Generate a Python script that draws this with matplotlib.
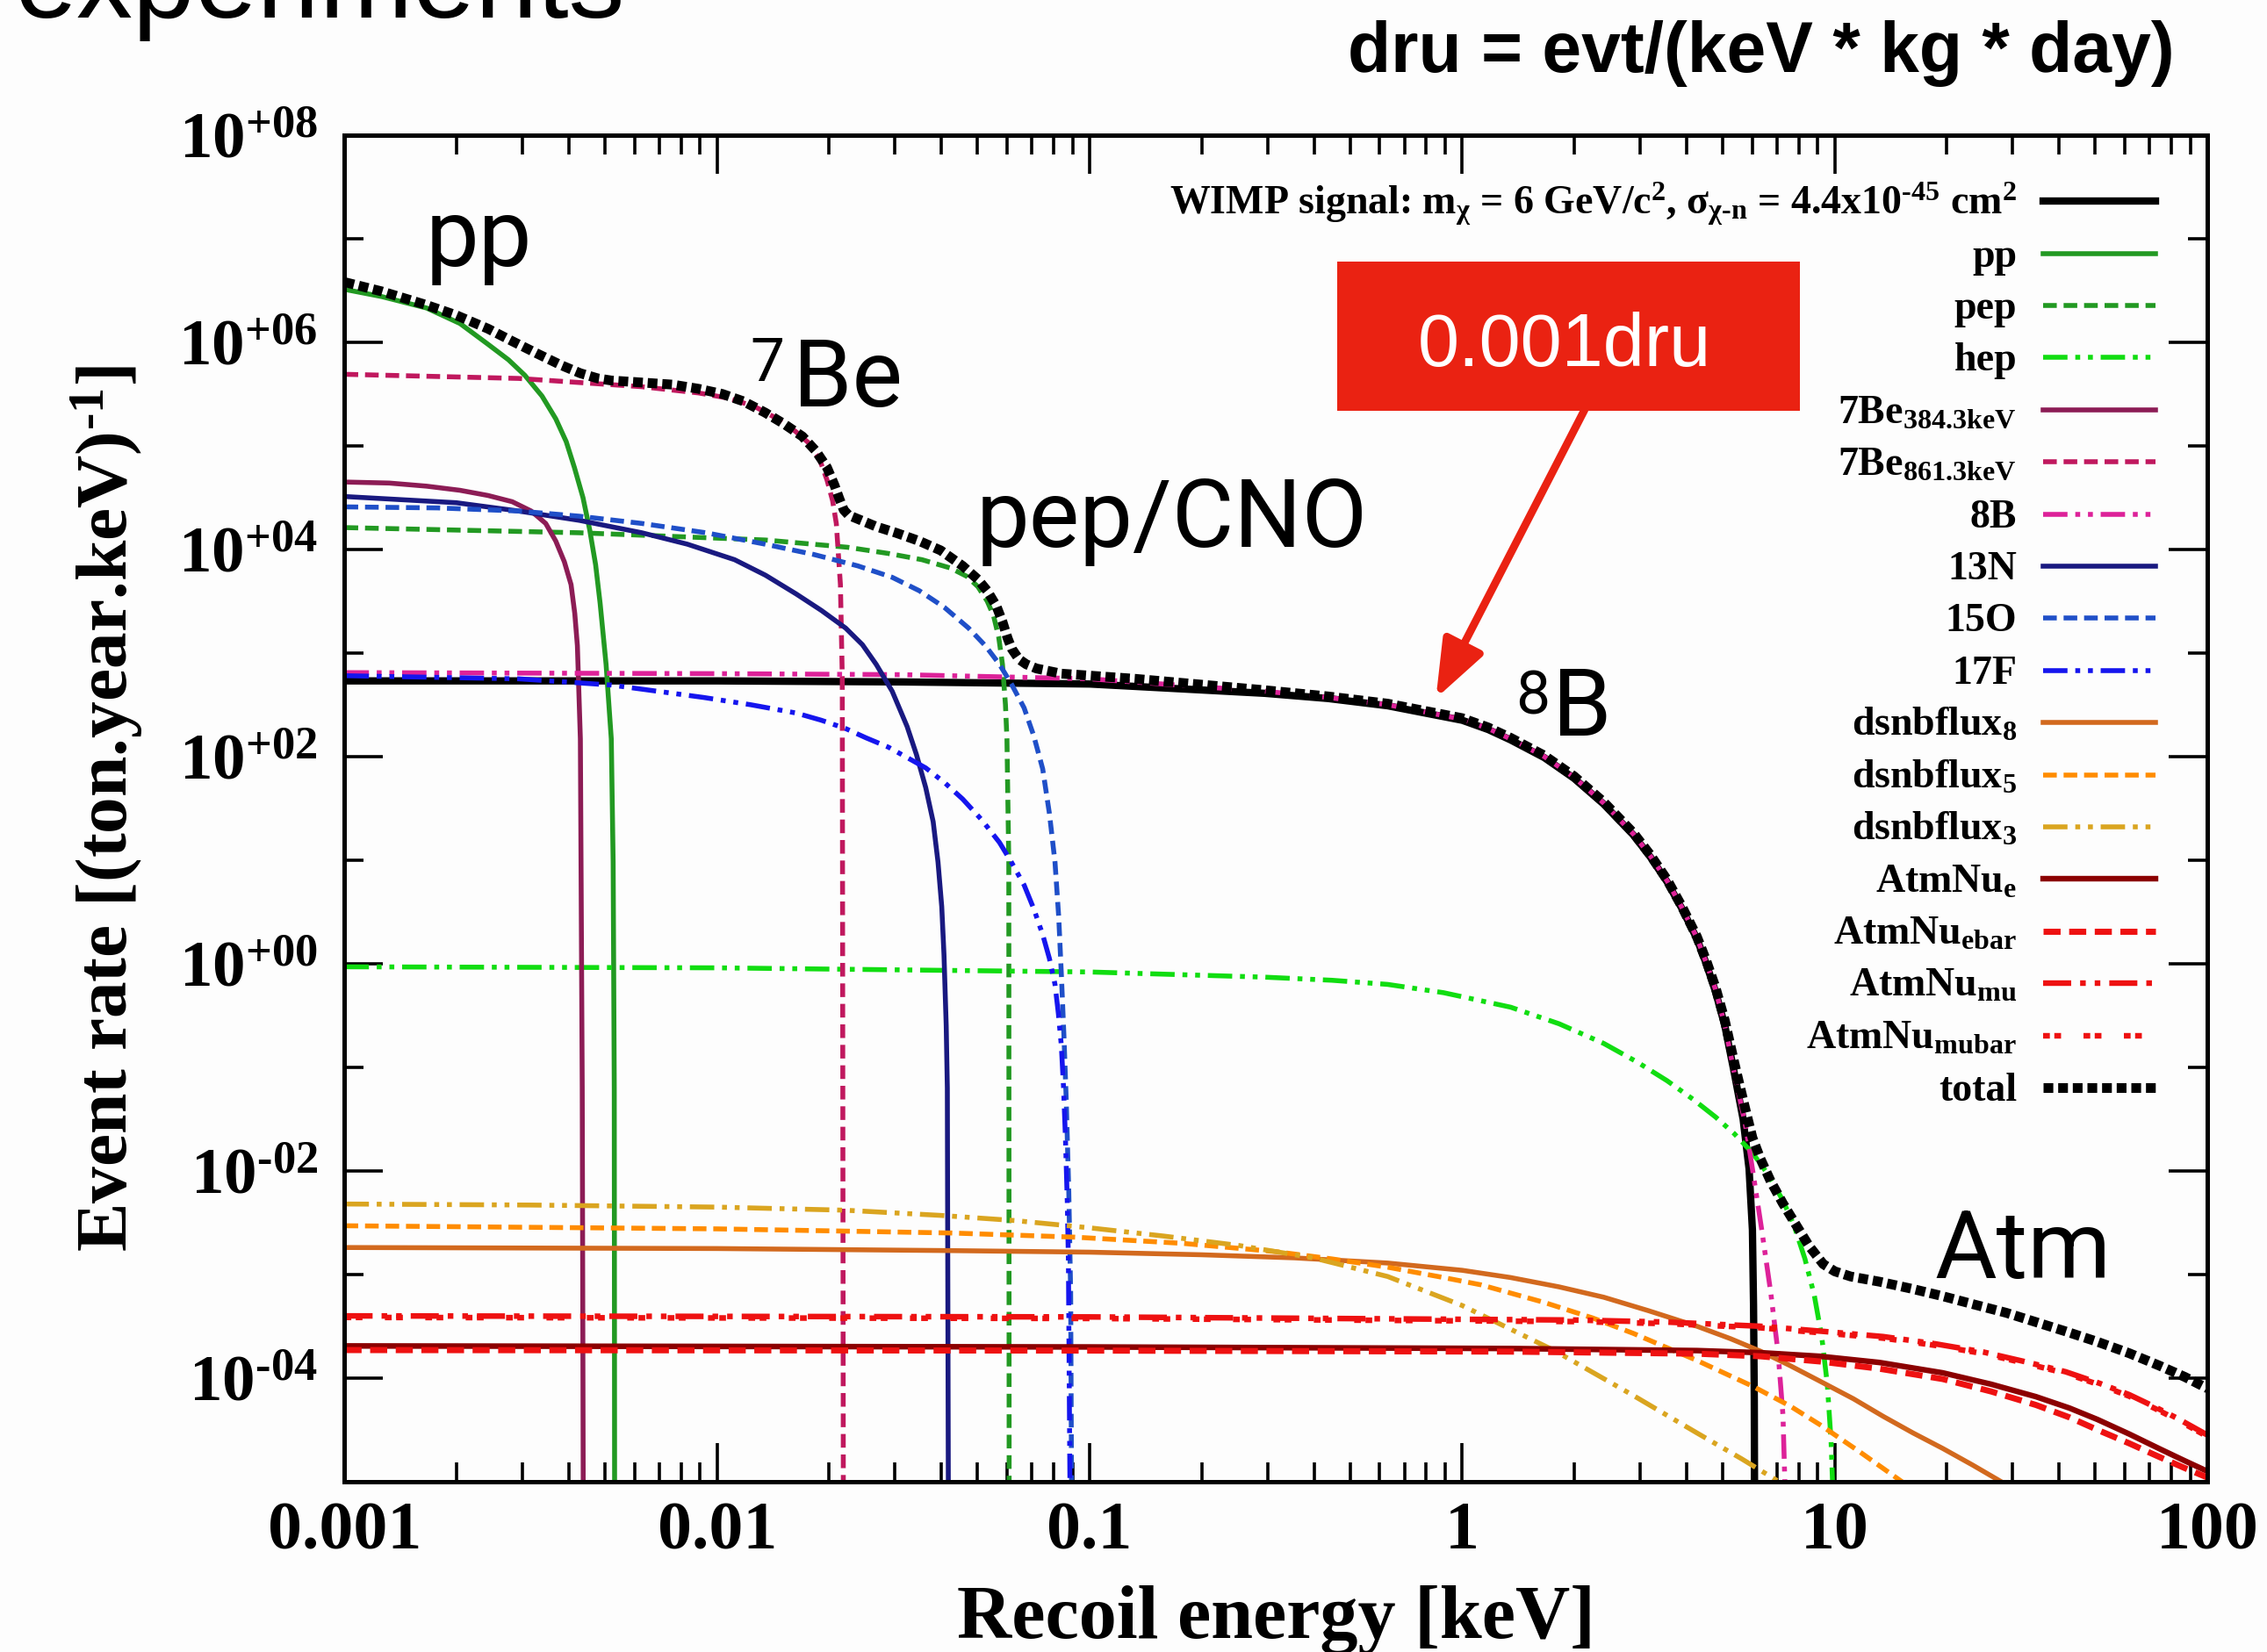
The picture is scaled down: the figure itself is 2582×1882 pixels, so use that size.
import matplotlib
matplotlib.use('Agg')
import matplotlib.pyplot as plt
from matplotlib.patches import Rectangle
from matplotlib.lines import Line2D
from matplotlib.ticker import FixedLocator, LogLocator, FuncFormatter, NullFormatter
import numpy as np

# log10(recoil energy / keV) and log10(rate / (ton.year.keV)^-1) for every curve
wimp_loge = [-3.0, -2.0, -1.5, -1.0, -0.53, -0.36, -0.2, 0.0, 0.07, 0.13, 0.22, 0.30, 0.38, 0.46, 0.505,
             0.55, 0.59, 0.63, 0.655, 0.68, 0.705, 0.729, 0.754, 0.770, 0.779, 0.782, 0.784, 0.785]
wimp_logr = [2.73, 2.73, 2.72, 2.70, 2.61, 2.56, 2.49, 2.35, 2.26, 2.16, 1.99, 1.79, 1.54, 1.24, 1.03,
             0.79, 0.53, 0.24, 0.0, -0.27, -0.6, -1.03, -1.50, -1.98, -2.57, -3.3, -4.2, -5.5]

pp_loge = [-3.0, -2.9, -2.78, -2.69, -2.615, -2.56, -2.516, -2.47, -2.433, -2.405, -2.383, -2.36, -2.342,
           -2.326, -2.314, -2.298, -2.284, -2.279, -2.276, -2.275]
pp_logr = [6.51, 6.44, 6.33, 6.18, 5.98, 5.83, 5.68, 5.48, 5.26, 5.04, 4.79, 4.50, 4.19, 3.85, 3.48, 2.89,
           2.17, 0.98, -1.2, -5.5]

pep_loge = [-3.0, -2.37, -1.87, -1.65, -1.54, -1.45, -1.374, -1.33, -1.30, -1.275, -1.258, -1.244, -1.234,
            -1.226, -1.222, -1.217, -1.216]
pep_logr = [4.21, 4.16, 4.09, 4.02, 3.96, 3.90, 3.82, 3.74, 3.64, 3.50, 3.36, 3.15, 2.89, 2.5, 2.17, 0.98,
            -5.5]

hep_loge = [-3.0, -2.0, -1.0, -0.53, -0.35, -0.2, -0.05, 0.13, 0.26, 0.38, 0.47, 0.55, 0.62, 0.68, 0.73,
            0.78, 0.82, 0.86, 0.89, 0.92, 0.945, 0.965, 0.98, 0.99, 0.996]
hep_logr = [-0.03, -0.04, -0.08, -0.13, -0.16, -0.2, -0.28, -0.42, -0.58, -0.77, -0.95, -1.13, -1.31,
            -1.48, -1.64, -1.83, -2.03, -2.28, -2.52, -2.85, -3.2, -3.6, -4.06, -4.6, -5.2]

be384_loge = [-3.0, -2.88, -2.78, -2.69, -2.615, -2.55, -2.499, -2.46, -2.433, -2.41, -2.392, -2.382,
              -2.375, -2.367, -2.362, -2.359]
be384_logr = [4.65, 4.64, 4.61, 4.57, 4.52, 4.46, 4.37, 4.25, 4.08, 3.88, 3.66, 3.38, 3.07, 2.17, -1.2,
              -5.5]

be861_loge = [-3.0, -2.533, -2.202, -2.05, -1.970, -1.90, -1.838, -1.79, -1.755, -1.725, -1.705, -1.69,
              -1.680, -1.669, -1.664, -1.661]
be861_logr = [5.69, 5.65, 5.57, 5.51, 5.46, 5.38, 5.26, 5.14, 5.03, 4.87, 4.67, 4.47, 4.25, 3.66, 2.77,
              -5.5]

b8_loge = [-3.0, -2.0, -1.5, -1.0, -0.53, -0.36, -0.2, 0.0, 0.07, 0.13, 0.22, 0.30, 0.38, 0.46, 0.505,
           0.55, 0.59, 0.63, 0.655, 0.68, 0.705, 0.73, 0.76, 0.779, 0.804, 0.828, 0.848, 0.861, 0.866, 0.868]
b8_logr = [2.81, 2.80, 2.79, 2.75, 2.63, 2.57, 2.50, 2.36, 2.27, 2.17, 2.00, 1.80, 1.55, 1.25, 1.04,
           0.80, 0.54, 0.25, 0.01, -0.25, -0.6, -1.05, -1.55, -1.98, -2.57, -3.17, -3.76, -4.36, -5.0, -5.5]

n13_loge = [-3.0, -2.7, -2.533, -2.37, -2.202, -2.08, -1.953, -1.87, -1.788, -1.72, -1.655, -1.61, -1.573,
            -1.53, -1.49, -1.465, -1.44, -1.42, -1.407, -1.397, -1.391, -1.385, -1.382, -1.379]
n13_logr = [4.51, 4.45, 4.37, 4.28, 4.16, 4.05, 3.90, 3.75, 3.57, 3.41, 3.24, 3.08, 2.89, 2.63, 2.29, 2.02,
            1.70, 1.37, 0.98, 0.55, 0.09, -0.6, -1.2, -5.5]

o15_loge = [-3.0, -2.75, -2.533, -2.37, -2.202, -2.03, -1.871, -1.74, -1.622, -1.53, -1.457, -1.39, -1.325,
            -1.28, -1.242, -1.21, -1.176, -1.15, -1.126, -1.108, -1.093, -1.083, -1.076, -1.069, -1.063,
            -1.056, -1.051, -1.048]
o15_logr = [4.41, 4.40, 4.37, 4.32, 4.25, 4.16, 4.05, 3.95, 3.84, 3.73, 3.60, 3.44, 3.24, 3.07, 2.89, 2.70,
            2.47, 2.20, 1.88, 1.45, 0.98, 0.45, -0.10, -0.7, -1.30, -2.2, -3.17, -5.5]

f17_loge = [-3.0, -2.533, -2.284, -2.16, -2.036, -1.91, -1.788, -1.72, -1.655, -1.60, -1.54, -1.49, -1.44,
            -1.39, -1.341, -1.29, -1.242, -1.21, -1.176, -1.15, -1.126, -1.108, -1.093, -1.084, -1.076,
            -1.070, -1.065, -1.060, -1.057, -1.052]
f17_logr = [2.78, 2.75, 2.69, 2.63, 2.57, 2.50, 2.42, 2.35, 2.27, 2.18, 2.09, 1.99, 1.89, 1.75, 1.59, 1.39,
            1.17, 0.98, 0.76, 0.53, 0.28, 0.05, -0.20, -0.48, -0.79, -1.2, -1.68, -2.3, -2.87, -5.5]

dsnb8_loge = [-3.0, -2.0, -1.37, -1.0, -0.7, -0.45, -0.2, 0.0, 0.13, 0.26, 0.38, 0.5, 0.63, 0.72, 0.80,
              0.88, 0.96, 1.05, 1.13, 1.21, 1.29, 1.37, 1.456, 1.5]
dsnb8_logr = [-2.74, -2.75, -2.77, -2.785, -2.81, -2.84, -2.89, -2.96, -3.03, -3.12, -3.22, -3.35, -3.50,
              -3.62, -3.74, -3.88, -4.03, -4.2, -4.37, -4.53, -4.68, -4.84, -5.02, -5.12]

dsnb5_loge = [-3.0, -2.0, -1.37, -1.04, -0.75, -0.5, -0.35, -0.2, -0.05, 0.05, 0.22, 0.35, 0.46, 0.63,
              0.78, 0.88, 0.96, 1.07, 1.18, 1.24]
dsnb5_logr = [-2.53, -2.56, -2.60, -2.64, -2.70, -2.78, -2.85, -2.93, -3.03, -3.10, -3.27, -3.42, -3.57,
              -3.83, -4.08, -4.27, -4.45, -4.72, -5.0, -5.15]

dsnb3_loge = [-3.0, -2.5, -2.0, -1.655, -1.4, -1.2, -1.0, -0.8, -0.6, -0.4, -0.2, 0.0, 0.25, 0.46, 0.63,
              0.75, 0.85, 0.9]
dsnb3_logr = [-2.32, -2.33, -2.35, -2.38, -2.43, -2.48, -2.55, -2.63, -2.72, -2.84, -3.02, -3.30, -3.74,
              -4.17, -4.53, -4.78, -5.0, -5.12]

atm_e_loge = [-3.0, -1.0, 0.13, 0.63, 0.8, 0.96, 1.12, 1.29, 1.42, 1.54, 1.63, 1.705, 1.79, 1.87, 1.94, 2.0]
atm_e_logr = [-3.69, -3.70, -3.715, -3.735, -3.755, -3.79, -3.85, -3.95, -4.06, -4.18, -4.29, -4.40,
              -4.54, -4.68, -4.80, -4.90]

atm_ebar_loge = [-3.0, -1.0, 0.13, 0.63, 0.8, 0.96, 1.12, 1.29, 1.42, 1.54, 1.63, 1.705, 1.79, 1.87, 1.94,
                 2.0]
atm_ebar_logr = [-3.73, -3.735, -3.745, -3.765, -3.79, -3.84, -3.91, -4.01, -4.13, -4.26, -4.38, -4.50,
                 -4.63, -4.76, -4.87, -4.96]

atm_mu_loge = [-3.0, -1.0, 0.3, 0.55, 0.8, 0.97, 1.13, 1.27, 1.4, 1.52, 1.62, 1.71, 1.79, 1.86, 1.92,
               1.97, 2.0]
atm_mu_logr = [-3.40, -3.41, -3.44, -3.46, -3.50, -3.55, -3.60, -3.67, -3.75, -3.85, -3.94, -4.05, -4.16,
               -4.28, -4.39, -4.49, -4.55]

atm_mubar_loge = [-3.0, -1.0, 0.3, 0.55, 0.8, 0.97, 1.13, 1.27, 1.4, 1.52, 1.62, 1.71, 1.79, 1.86, 1.92,
                  1.97, 2.0]
atm_mubar_logr = [-3.415, -3.425, -3.455, -3.475, -3.515, -3.565, -3.615, -3.685, -3.765, -3.865, -3.955,
                  -4.065, -4.175, -4.295, -4.405, -4.505, -4.565]

total_loge = [-3.0, -2.9, -2.781, -2.7, -2.615, -2.55, -2.483, -2.42, -2.367, -2.32, -2.284, -2.2, -2.119,
              -2.05, -1.986, -1.93, -1.871, -1.82, -1.771, -1.735, -1.705, -1.685, -1.672, -1.66, -1.647,
              -1.62, -1.573, -1.52, -1.457, -1.4, -1.341, -1.30, -1.275, -1.25, -1.234, -1.22, -1.209,
              -1.19, -1.17, -1.143, -1.076, -0.878, -0.53, -0.36, -0.2, 0.0, 0.07, 0.13, 0.22, 0.30, 0.38,
              0.46, 0.505, 0.55, 0.59, 0.63, 0.655, 0.68, 0.705, 0.73, 0.755, 0.779, 0.80, 0.828, 0.86,
              0.894, 0.93, 0.969, 1.0, 1.043, 1.12, 1.209, 1.29, 1.374, 1.46, 1.54, 1.62, 1.705, 1.79,
              1.871, 1.94, 2.0]
total_logr = [6.58, 6.49, 6.36, 6.26, 6.13, 6.01, 5.89, 5.78, 5.70, 5.65, 5.63, 5.61, 5.59, 5.55, 5.50,
              5.43, 5.32, 5.21, 5.09, 4.95, 4.79, 4.62, 4.49, 4.38, 4.33, 4.29, 4.22, 4.16, 4.08, 3.99,
              3.84, 3.71, 3.60, 3.45, 3.30, 3.14, 3.04, 2.94, 2.89, 2.85, 2.80, 2.75, 2.64, 2.58, 2.51,
              2.37, 2.28, 2.18, 2.01, 1.81, 1.56, 1.26, 1.05, 0.81, 0.55, 0.26, 0.03, -0.23, -0.55, -0.95,
              -1.33, -1.68, -1.88, -2.10, -2.31, -2.51, -2.72, -2.90, -2.97, -3.02, -3.07, -3.14, -3.21,
              -3.29, -3.37, -3.46, -3.55, -3.65, -3.76, -3.88, -3.99, -4.10]

# 0.001 dru expressed per ton.year.keV, and where the arrow lands on the 8B curve
DRU_E = 0.85
DRU_RATE = 1e-3 * 1000 * 365

x_ticks = [1e-3, 1e-2, 1e-1, 1, 10, 100]
y_major = [1e-4, 1e-2, 1, 1e2, 1e4, 1e6, 1e8]
y_minor = [1e-5, 1e-3, 1e-1, 1e1, 1e3, 1e5, 1e7]

HY = '\N{HYPHEN}'
DASH = (0, (2.8, 1.4))
DDOT = (0, (5, 1.6, 1, 1.6, 1, 1.6))
SPARSE = (0, (1.2, 0.8, 1.2, 4))

series = [
    ('WIMP signal: m$_{χ}$ = 6 GeV/c$^{2}$, σ$_{χ' + HY + 'n}$ = 4.4x10$^{' + HY + '45}$ cm$^{2}$',
     wimp_loge, wimp_logr, dict(color='black', lw=3.0, ls='-')),
    ('pp', pp_loge, pp_logr, dict(color='#229922', lw=2.0, ls='-')),
    ('pep', pep_loge, pep_logr, dict(color='#229922', lw=2.0, ls=DASH)),
    ('hep', hep_loge, hep_logr, dict(color='#11dd11', lw=2.0, ls=DDOT)),
    ('7Be$_{384.3keV}$', be384_loge, be384_logr, dict(color='#8c1c55', lw=2.0, ls='-')),
    ('7Be$_{861.3keV}$', be861_loge, be861_logr, dict(color='#c0185e', lw=2.0, ls=DASH)),
    ('8B', b8_loge, b8_logr, dict(color='#dd2299', lw=2.0, ls=DDOT)),
    ('13N', n13_loge, n13_logr, dict(color='#191980', lw=2.0, ls='-')),
    ('15O', o15_loge, o15_logr, dict(color='#1f4fc8', lw=2.0, ls=DASH)),
    ('17F', f17_loge, f17_logr, dict(color='#1515ee', lw=2.0, ls=DDOT)),
    ('dsnbflux$_{8}$', dsnb8_loge, dsnb8_logr, dict(color='#d2691e', lw=2.0, ls='-')),
    ('dsnbflux$_{5}$', dsnb5_loge, dsnb5_logr, dict(color='#ff8c00', lw=2.0, ls=DASH)),
    ('dsnbflux$_{3}$', dsnb3_loge, dsnb3_logr, dict(color='#daa520', lw=2.0, ls=DDOT)),
    ('AtmNu$_{e}$', atm_e_loge, atm_e_logr, dict(color='#8b0000', lw=2.3, ls='-')),
    ('AtmNu$_{ebar}$', atm_ebar_loge, atm_ebar_logr, dict(color='#ee1111', lw=2.5, ls=DASH)),
    ('AtmNu$_{mu}$', atm_mu_loge, atm_mu_logr, dict(color='#ee1111', lw=2.3, ls=DDOT)),
    ('AtmNu$_{mubar}$', atm_mubar_loge, atm_mubar_logr, dict(color='#ee1111', lw=2.3, ls=SPARSE)),
    ('total', total_loge, total_logr, dict(color='black', lw=4.0, ls=(0, (1.0, 0.5)))),
]

RED = '#ea2212'

plt.rcParams['font.family'] = 'Liberation Serif'
plt.rcParams['font.weight'] = 'bold'
plt.rcParams['mathtext.fontset'] = 'custom'
plt.rcParams['mathtext.rm'] = 'Liberation Serif:bold'
plt.rcParams['mathtext.it'] = 'Liberation Serif:bold'
plt.rcParams['mathtext.bf'] = 'Liberation Serif:bold'
plt.rcParams['mathtext.default'] = 'bf'


def decade_label(v, pos):
    k = int(round(np.log10(v)))
    sign = '+' if k >= 0 else HY
    return r'$10^{%s%02d}$' % (sign, abs(k))


def main():
    fig = plt.figure(figsize=(12.91, 9.41), dpi=200, facecolor='#fdfdfd')
    ax = fig.add_axes([0.15198, 0.10314, 0.82169, 0.81514])
    ax.set_facecolor('#fdfdfd')

    for label, le, lr, st in series:
        ax.plot(10 ** np.array(le), 10 ** np.array(lr), color=st['color'], lw=st['lw'],
                linestyle=st['ls'])

    ax.set_xscale('log')
    ax.set_yscale('log')
    ax.set_xlim(1e-3, 100)
    ax.set_ylim(1e-5, 1e8)

    ax.xaxis.set_major_locator(FixedLocator(x_ticks))
    ax.xaxis.set_minor_locator(LogLocator(base=10, subs=np.arange(2, 10), numticks=20))
    ax.xaxis.set_major_formatter(FuncFormatter(lambda v, p: '%g' % v))
    ax.xaxis.set_minor_formatter(NullFormatter())
    ax.yaxis.set_major_locator(FixedLocator(y_major))
    ax.yaxis.set_minor_locator(FixedLocator(y_minor))
    ax.yaxis.set_major_formatter(FuncFormatter(decade_label))
    ax.yaxis.set_minor_formatter(NullFormatter())

    ax.tick_params(which='both', direction='in', top=True, right=True, width=1.3)
    ax.tick_params(which='major', length=16)
    ax.tick_params(which='minor', length=8)
    ax.tick_params(axis='x', labelsize=28, pad=8)
    ax.tick_params(axis='y', labelsize=27, pad=11)
    for s in ax.spines.values():
        s.set_linewidth(1.8)

    # key on the right: labels right-aligned, samples after them
    for i, (label, le, lr, st) in enumerate(series):
        yy = 0.9509 - 0.03872 * i
        ax.text(0.8977, yy - 0.0098, label, transform=ax.transAxes, ha='right', va='baseline',
                fontsize=16.5)
        ax.add_artist(Line2D([0.9120, 0.9722], [yy, yy], transform=ax.transAxes, color=st['color'],
                             lw=st['lw'], linestyle=st['ls'], clip_on=False))

    fig.text(0.5628, 0.0085, 'Recoil energy [keV]', ha='center', va='baseline', fontsize=31)
    fig.text(0.0561, 0.5107, 'Event rate [(ton.year.keV)$^{' + HY + '1}$]', rotation=90,
             rotation_mode='anchor', ha='center', va='baseline', fontsize=30)

    # slide text around the plot
    fig.text(0.0066, 0.9894, 'experiments', family='Liberation Sans', weight='normal', fontsize=46,
             va='baseline', ha='left')
    fig.text(0.9593, 0.9564, 'dru = evt/(keV * kg * day)', family='Liberation Sans', weight='bold',
             fontsize=29, va='baseline', ha='right')

    big = dict(family='Roboto', weight='normal', fontsize=39, color='black')
    sup = dict(family='Roboto', weight='normal', fontsize=25, color='black')
    fig.text(0.1878, 0.8390, 'pp', va='baseline', ha='left', **big)
    fig.text(0.3460, 0.7970, '7', va='top', ha='right', **sup)
    fig.text(0.3497, 0.7540, 'Be', va='baseline', ha='left', **big)
    fig.text(0.4307, 0.6690, 'pep/CNO', va='baseline', ha='left', **big)
    fig.text(0.6835, 0.5956, '8', va='top', ha='right', **sup)
    fig.text(0.6847, 0.5547, 'B', va='baseline', ha='left', **big)
    fig.text(0.8532, 0.2264, 'Atm', va='baseline', ha='left', **big)

    # 0.001 dru call-out
    fig.add_artist(Rectangle((0.5898, 0.75154), 0.2043, 0.09022, transform=fig.transFigure,
                             facecolor=RED, edgecolor='none'))
    fig.text(0.6255, 0.7784, '0.001dru', family='Liberation Sans', weight='normal', fontsize=30.5,
             color='white', va='baseline', ha='left')
    ax.annotate('', xy=(DRU_E, DRU_RATE), xycoords='data', xytext=(0.699, 0.7520),
                textcoords='figure fraction', annotation_clip=False,
                arrowprops=dict(arrowstyle='-|>,head_length=1.0,head_width=0.38', color=RED, lw=3.2,
                                mutation_scale=20, shrinkA=0, shrinkB=0))

    fig.savefig('out.png', dpi=200, facecolor=fig.get_facecolor())


if __name__ == '__main__':
    main()
